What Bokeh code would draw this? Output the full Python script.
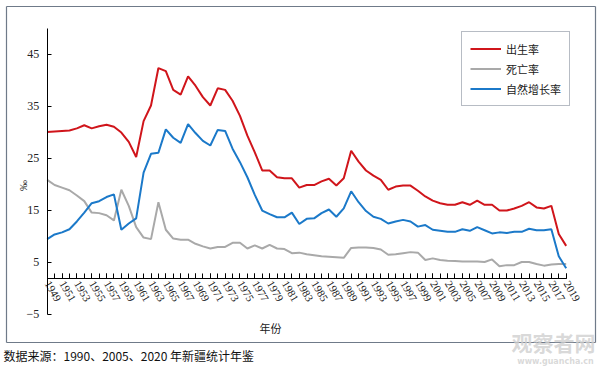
import math
from bokeh.plotting import figure
from bokeh.models import (Range1d, FixedTicker, Legend, LegendItem, Label,
                          LinearAxis)
from bokeh.embed import file_html
from bokeh.resources import INLINE

years = list(range(1949, 2020))
birth_rate = [30.0, 30.1, 30.2, 30.3, 30.7, 31.3, 30.7, 31.1, 31.4, 31.0,
              29.9, 28.1, 25.2, 32.1, 35.1, 42.3, 41.7, 38.1, 37.2, 40.7,
              38.9, 36.7, 35.1, 38.4, 38.1, 36.0, 33.1, 29.3, 26.1, 22.6,
              22.6, 21.3, 21.1, 21.1, 19.3, 19.8, 19.8, 20.5, 21.0, 19.7,
              21.1, 26.4, 24.3, 22.6, 21.6, 20.8, 18.9, 19.5, 19.7, 19.7,
              18.7, 17.6, 16.8, 16.3, 16.0, 16.0, 16.5, 16.0, 16.8, 16.0,
              16.0, 14.9, 14.9, 15.3, 15.8, 16.5, 15.5, 15.3, 15.8, 10.4, 8.1]
death_rate = [20.8, 19.8, 19.3, 18.8, 17.8, 16.7, 14.5, 14.4, 14.0, 13.0,
              18.9, 15.8, 11.7, 9.7, 9.4, 16.5, 11.2, 9.5, 9.3, 9.3,
              8.5, 8.0, 7.6, 7.9, 7.9, 8.7, 8.7, 7.6, 8.2, 7.6,
              8.3, 7.6, 7.5, 6.7, 6.8, 6.5, 6.3, 6.1, 6.0, 5.9,
              5.8, 7.7, 7.8, 7.8, 7.7, 7.4, 6.4, 6.5, 6.7, 6.9,
              6.8, 5.4, 5.7, 5.4, 5.25, 5.2, 5.1, 5.1, 5.1, 5.0,
              5.5, 4.2, 4.4, 4.4, 5.0, 5.0, 4.6, 4.3, 4.5, 4.6, 4.6]
growth_rate = [9.4, 10.3, 10.7, 11.3, 12.8, 14.5, 16.3, 16.7, 17.5, 18.0,
               11.2, 12.4, 13.4, 22.2, 25.8, 26.0, 30.5, 28.9, 27.9, 31.5,
               29.8, 28.3, 27.4, 30.4, 30.2, 26.8, 24.2, 21.3, 17.9, 14.9,
               14.2, 13.6, 13.6, 14.5, 12.3, 13.3, 13.4, 14.4, 15.1, 13.7,
               15.3, 18.6, 16.5, 14.8, 13.7, 13.3, 12.4, 12.8, 13.1, 12.8,
               11.8, 12.1, 11.2, 11.0, 10.8, 10.8, 11.3, 11.0, 11.7, 11.1,
               10.5, 10.7, 10.6, 10.8, 10.8, 11.4, 11.1, 11.1, 11.3, 6.1, 3.8]
series_names = ["出生率", "死亡率", "自然增长率"]
x_tick_years = list(range(1949, 2020, 2))
y_ticks = [-5, 5, 15, 25, 35, 45]

W, H = 600, 368
X0, X1 = 1942.70, 2023.63
Y0, Y1 = -15.48, 55.29
p = figure(width=W, height=H, output_backend="svg", toolbar_location=None,
           x_range=Range1d(X0, X1), y_range=Range1d(Y0, Y1), min_border=0)
p.outline_line_color = None
p.grid.visible = False
p.background_fill_color = "white"
p.border_fill_color = "white"


def px_x(px):
    return X0 + px / W * (X1 - X0)


def px_y(py):
    return Y1 - py / H * (Y1 - Y0)


serif = "Liberation Serif"
# x axis, crossing the value axis near 1.8
xa = p.xaxis[0]
xa.fixed_location = 1.8
xa.bounds = (1949, 2019)
xa.ticker = FixedTicker(ticks=x_tick_years, minor_ticks=years)
xa.major_tick_in = 5
xa.major_tick_out = 0
xa.minor_tick_in = 5
xa.minor_tick_out = 0
xa.axis_line_color = "black"
xa.major_tick_line_color = "black"
xa.minor_tick_line_color = "black"
xa.major_label_orientation = -math.pi / 3
xa.major_label_text_font = serif
xa.major_label_text_font_size = "11px"
xa.major_label_text_color = "#222222"
xa.major_label_standoff = 3

# y axis
ya = p.yaxis[0]
ya.fixed_location = 1949
ya.bounds = (-5, 50)
ya.ticker = FixedTicker(ticks=y_ticks, minor_ticks=[])
ya.major_tick_in = 4
ya.major_tick_out = 0
ya.axis_line_color = "black"
ya.major_tick_line_color = "black"
ya.major_label_text_font = serif
ya.major_label_text_font_size = "12px"
ya.major_label_text_color = "#222222"
ya.major_label_standoff = 8

r1 = p.line(years, birth_rate, line_color="#d0151b", line_width=2)
r2 = p.line(years, death_rate, line_color="#a9a9a9", line_width=2)
r3 = p.line(years, growth_rate, line_color="#1b79c9", line_width=2)

legend = Legend(items=[LegendItem(label=series_names[0], renderers=[r1]),
                       LegendItem(label=series_names[1], renderers=[r2]),
                       LegendItem(label=series_names[2], renderers=[r3])],
                location=(461, 262))
legend.margin = 0
legend.padding = 8
legend.spacing = 3
legend.glyph_width = 31
legend.glyph_height = 17
legend.label_height = 17
legend.label_standoff = 5
legend.label_text_font = "Noto Sans CJK SC"
legend.label_text_font_size = "11px"
legend.label_text_color = "#222222"
legend.border_line_color = "#6f7a89"
legend.border_line_width = 1
legend.background_fill_color = "white"
p.add_layout(legend)

# outer chart border drawn with four tick-less axes
BORDER = "#6f7a89"
bl, br, bt, bb = 5.5, 594.5, 5.5, 342.0
for side, loc in (("above", px_y(bt)), ("below", px_y(bb))):
    ax = LinearAxis(fixed_location=loc, bounds=(px_x(bl), px_x(br)),
                    ticker=FixedTicker(ticks=[], minor_ticks=[]),
                    axis_line_color=BORDER, axis_line_width=1.2,
                    major_tick_line_color=None, minor_tick_line_color=None,
                    major_label_text_font_size="0px")
    p.add_layout(ax, side)
for side, loc in (("left", px_x(bl)), ("right", px_x(br))):
    ax = LinearAxis(fixed_location=loc, bounds=(px_y(bb), px_y(bt)),
                    ticker=FixedTicker(ticks=[], minor_ticks=[]),
                    axis_line_color=BORDER, axis_line_width=1.2,
                    major_tick_line_color=None, minor_tick_line_color=None,
                    major_label_text_font_size="0px")
    p.add_layout(ax, side)

cjk = "Noto Sans CJK SC"
p.add_layout(Label(x=22, y=183, x_units="screen", y_units="screen",
                   text="‰", angle=math.pi / 2, text_align="center",
                   text_baseline="middle", text_font=serif,
                   text_font_size="11px", text_color="#222222"))
p.add_layout(Label(x=270, y=41, x_units="screen", y_units="screen",
                   text="年份", text_align="center", text_baseline="middle",
                   text_font=cjk, text_font_size="11px",
                   text_color="#222222"))
p.add_layout(Label(x=3, y=13, x_units="screen", y_units="screen",
                   text="数据来源：1990、2005、2020 年新疆统计年鉴",
                   text_align="left", text_baseline="middle",
                   text_font=cjk, text_font_size="12px",
                   text_color="#111111"))
p.add_layout(Label(x=553, y=27, x_units="screen", y_units="screen",
                   text="观察者网", text_align="center", text_baseline="middle",
                   text_font=cjk, text_font_size="21px",
                   text_font_style="bold", text_color="#cfcfcf", text_alpha=0.8))
p.add_layout(Label(x=555, y=7, x_units="screen", y_units="screen",
                   text="www.guancha.cn", text_align="center", text_baseline="middle",
                   text_font="DejaVu Sans", text_font_size="8px",
                   text_font_style="bold", text_color="#cfcfcf", text_alpha=0.8))

open("out.html", "w").write(file_html(p, INLINE))
